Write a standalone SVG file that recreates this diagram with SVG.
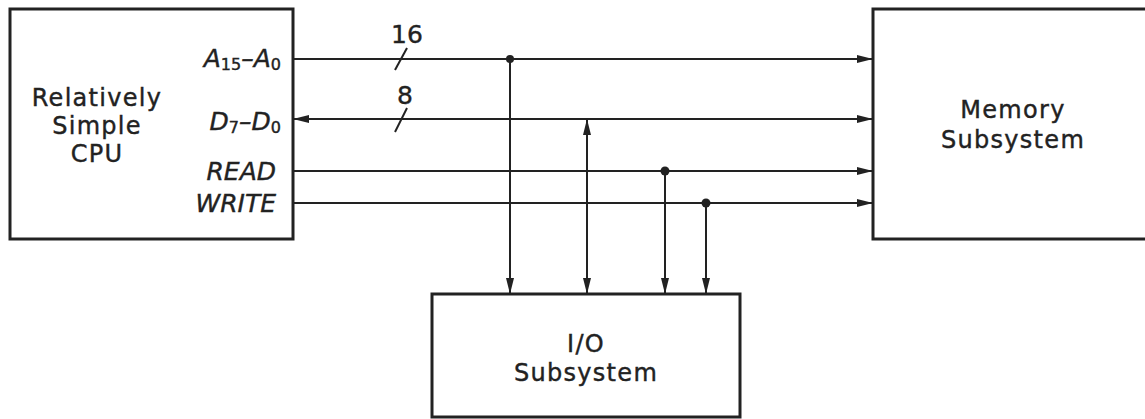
<svg xmlns="http://www.w3.org/2000/svg" width="1145" height="419" viewBox="0 0 1145 419">
<defs>
<style>
.box{fill:#fff;stroke:#222;stroke-width:3}
.ln{stroke:#222;stroke-width:2;fill:none}
.t{font-family:"DejaVu Sans",Verdana,sans-serif;font-size:24px;letter-spacing:1.3px;fill:#222;stroke:#222;stroke-width:0.4;text-anchor:middle}
.s{font-family:"DejaVu Sans",Verdana,sans-serif;font-size:25px;font-style:italic;fill:#222;stroke:#222;stroke-width:0.4;text-anchor:end}
.sub{font-size:16px;font-style:normal}
.n{font-family:"DejaVu Sans",Verdana,sans-serif;font-size:25px;fill:#222;stroke:#222;stroke-width:0.4;text-anchor:middle}
</style>
<marker id="ah" viewBox="0 0 16 10" refX="16" refY="5" markerWidth="16" markerHeight="10" markerUnits="userSpaceOnUse" orient="auto-start-reverse">
<path d="M0,1 L16,5 L0,9 Z" fill="#222"/>
</marker>
</defs>
<rect width="1145" height="419" fill="#fff"/>
<g id="cpu">
<rect class="box" x="10" y="9" width="283" height="230"/>
<text class="t" x="97" y="106">Relatively</text>
<text class="t" x="97" y="134">Simple</text>
<text class="t" x="97" y="162">CPU</text>
<text class="s" x="281" y="67">A<tspan class="sub" dy="3">15</tspan><tspan dy="-3">–A</tspan><tspan class="sub" dy="3">0</tspan></text>
<text class="s" x="281" y="130">D<tspan class="sub" dy="3">7</tspan><tspan dy="-3">–D</tspan><tspan class="sub" dy="3">0</tspan></text>
<text class="s" x="276" y="180">READ</text>
<text class="s" x="276" y="212">WRITE</text>
</g>
<g id="memory">
<rect class="box" x="873" y="9" width="290" height="230"/>
<text class="t" x="1013" y="118">Memory</text>
<text class="t" x="1013" y="148">Subsystem</text>
</g>
<g id="io">
<rect class="box" x="432" y="294" width="308" height="123"/>
<text class="t" x="586" y="352">I/O</text>
<text class="t" x="586" y="381">Subsystem</text>
</g>
<g id="connectors">
<line class="ln" x1="293" y1="59" x2="873" y2="59" marker-end="url(#ah)"/>
<line class="ln" x1="293" y1="119" x2="873" y2="119" marker-start="url(#ah)" marker-end="url(#ah)"/>
<line class="ln" x1="293" y1="171" x2="873" y2="171" marker-end="url(#ah)"/>
<line class="ln" x1="293" y1="203" x2="873" y2="203" marker-end="url(#ah)"/>
<line class="ln" x1="510" y1="59" x2="510" y2="294" marker-end="url(#ah)"/>
<line class="ln" x1="587" y1="119" x2="587" y2="294" marker-start="url(#ah)" marker-end="url(#ah)"/>
<line class="ln" x1="665" y1="171" x2="665" y2="294" marker-end="url(#ah)"/>
<line class="ln" x1="706" y1="203" x2="706" y2="294" marker-end="url(#ah)"/>
<circle cx="510" cy="59" r="4" fill="#222"/>
<circle cx="665" cy="171" r="4.5" fill="#222"/>
<circle cx="706" cy="203" r="4.5" fill="#222"/>
<line class="ln" x1="395" y1="70" x2="407" y2="48"/>
<line class="ln" x1="395" y1="132" x2="407" y2="108"/>
<text class="n" x="407" y="43">16</text>
<text class="n" x="405" y="104">8</text>
</g>
</svg>
